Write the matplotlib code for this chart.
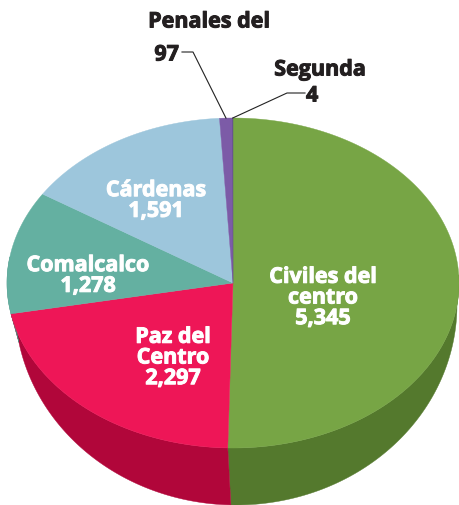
import numpy as np
import matplotlib.pyplot as plt
import matplotlib.patheffects as pe
from matplotlib.patches import Polygon

# data (clockwise from 12 o'clock)
categories = ["Civiles del\ncentro", "Paz del\nCentro", "Comalcalco", "Cárdenas", "Penales del", "Segunda"]
values = [5345, 2297, 1278, 1591, 97, 4]
value_labels = ["5,345", "2,297", "1,278", "1,591", "97", "4"]

top_colors = ["#77a545", "#ee1657", "#64b0a1", "#9dc6dc", "#7c5ba7", "#5e4a8a"]
side_colors = ["#54792d", "#b1063a", "#4a8b7e", "#7aa3b8", "#5e4185", "#4a3a70"]

plt.rcParams["font.family"] = ["Open Sans", "DejaVu Sans"]

W, H = 459, 505
fig = plt.figure(figsize=(W / 100, H / 100), dpi=100)
ax = fig.add_axes([0, 0, 1, 1])
ax.set_xlim(0, W)
ax.set_ylim(H, 0)
ax.axis("off")

# top ellipse and (slightly perspective) bottom contour, in pixel space
cx, cy, a, b = 233, 283, 226, 165
bx, by, ba, bb = 236, 305, 221, 200


def top_pt(t):
    return cx + a * np.cos(t), cy - b * np.sin(t)


def bot_pt(t):
    return bx + ba * np.cos(t), by - bb * np.sin(t)


total = sum(values)
spans = np.array(values) / total * 2 * np.pi
starts = np.pi / 2 - np.concatenate([[0], np.cumsum(spans)[:-1]])
ends = starts - spans

# side walls (only the front half is visible)
for s, e, col in zip(starts, ends, side_colors):
    for shift in (0, -2 * np.pi):
        lo, hi = max(e + shift, -np.pi * 1.05), min(s + shift, 0.05)
        if hi <= lo:
            continue
        t = np.linspace(hi, lo, 200)
        tx, ty = top_pt(t)
        bxs, bys = bot_pt(t[::-1])
        pts = np.column_stack([np.concatenate([tx, bxs]), np.concatenate([ty, bys])])
        ax.add_patch(Polygon(pts, closed=True, fc=col, ec=col, lw=0.3))

# top faces
for s, e, col in zip(starts, ends, top_colors):
    t = np.linspace(s, e, max(int(abs(s - e) * 120), 4))
    tx, ty = top_pt(t)
    pts = np.column_stack([np.concatenate([[cx], tx]), np.concatenate([[cy], ty])])
    ax.add_patch(Polygon(pts, closed=True, fc=col, ec=col, lw=0.3))

white_fx = [pe.withStroke(linewidth=0.7, foreground="white")]
dark = "#231f20"
dark_fx = [pe.withStroke(linewidth=0.7, foreground=dark)]

# white labels inside slices
inner_pos = [(323, 298), (173, 358), (88, 276), (156, 201)]
for i, (x, y) in enumerate(inner_pos):
    ax.text(x, y, categories[i] + "\n" + value_labels[i], color="white", fontsize=15.5,
            fontweight="bold", ha="center", va="center", linespacing=0.98,
            path_effects=white_fx)

# small slices: outside labels with leader lines
mid_pen = (starts[4] + ends[4]) / 2
mid_seg = (starts[5] + ends[5]) / 2
px, py = top_pt(mid_pen)
sx, sy = top_pt(mid_seg)
ax.plot([182, 193, px], [52, 52, py], color="#222222", lw=0.8)
ax.plot([305, 287, sx], [93, 93, sy], color="#222222", lw=0.8)

ax.text(209, 22, categories[4], fontsize=15.5, fontweight="bold", color=dark,
        ha="center", va="center", path_effects=dark_fx)
ax.text(179, 55, value_labels[4], fontsize=15.5, fontweight="bold", color=dark,
        ha="right", va="center", path_effects=dark_fx)
ax.text(320, 70, categories[5], fontsize=15.5, fontweight="bold", color=dark,
        ha="center", va="center", path_effects=dark_fx)
ax.text(306, 96, value_labels[5], fontsize=15.5, fontweight="bold", color=dark,
        ha="left", va="center", path_effects=dark_fx)

fig.savefig("out.png", dpi=100)
